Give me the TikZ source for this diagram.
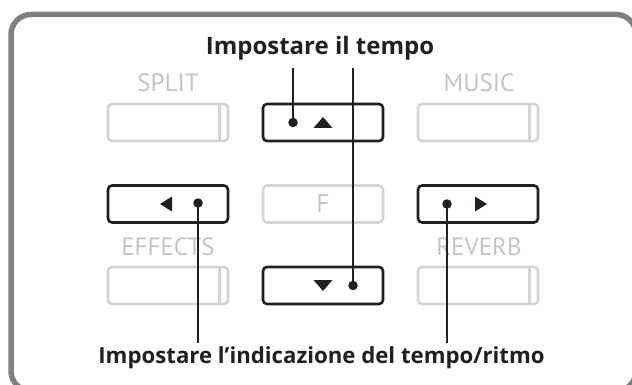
\documentclass[tikz,border=0pt]{standalone}
\usepackage{fontspec}
\setmainfont{PT Sans}
\newfontfamily\captionfont{Open Sans}
\usetikzlibrary{calc}
\definecolor{framegray}{HTML}{808080}
\definecolor{keygray}{HTML}{D4D4D4}
\definecolor{labelgray}{HTML}{C4C4C4}
\definecolor{inkblack}{HTML}{231F20}

\begin{document}
\begin{tikzpicture}[x=1pt,y=-1pt,
  key/.style={draw,rounded corners=4pt,line width=2.6pt,minimum width=120pt,minimum height=37pt,inner sep=0pt},
  livekey/.style={key,draw=inkblack},
  deadkey/.style={key,draw=keygray,text=labelgray,font=\fontsize{25.5}{25}\selectfont},
  keyname/.style={anchor=base,text=labelgray,font=\fontsize{25}{25}\selectfont},
  pin/.style={circle,fill=inkblack,inner sep=0pt,minimum size=9.5pt},
  lead/.style={line width=1.3pt,draw=inkblack},
  caption/.style={anchor=base,text=inkblack,font=\captionfont\bfseries\fontsize{22.2}{22}\selectfont}]
  \useasboundingbox (0,0) rectangle (632,385);
  \draw[framegray,line width=5.5pt,rounded corners=20pt] (11,14.5) rectangle (636,391);

  % panel keys
  \node[deadkey] (split) at (168,122.5) {};
  \node[livekey] (up) at (323,122.5) {};
  \node[deadkey] (music) at (478,122.5) {};
  \node[livekey] (left) at (168,204) {};
  \node[deadkey] (fkey) at (323,204) {F};
  \node[livekey] (right) at (478,204) {};
  \node[deadkey] (effects) at (168,285.5) {};
  \node[livekey] (down) at (323,285.5) {};
  \node[deadkey] (reverb) at (478,285.5) {};
  \foreach \k in {split,music,effects,reverb}
    \draw[keygray,line width=2.6pt] ($(\k.north east)+(-10,0)$) -- ($(\k.south east)+(-10,0)$);

  % key names
  \node[keyname] (splitname) at (168,92) {SPLIT};
  \node[keyname] (musicname) at (479,92) {MUSIC};
  \node[keyname] (effectsname) at (168,255) {EFFECTS};
  \node[keyname] (reverbname) at (479,255) {REVERB};

  % arrow marks
  \fill[inkblack] ($(up.center)+(-9.5,5.5)$) -- ++(19,0) -- ++(-9.5,-11) -- cycle;
  \fill[inkblack] ($(down.center)+(-9.5,-5.5)$) -- ++(19,0) -- ++(-9.5,11) -- cycle;
  \fill[inkblack] ($(left.center)+(4,-7.5)$) -- ++(0,15) -- ++(-12,-7.5) -- cycle;
  \fill[inkblack] ($(right.center)+(-3,-7.5)$) -- ++(0,15) -- ++(12,-7.5) -- cycle;

  % leads
  \node[pin] (updot) at ($(up.center)+(-30,0)$) {};
  \node[pin] (downdot) at ($(down.center)+(30,0)$) {};
  \node[pin] (leftdot) at ($(left.center)+(30,-1)$) {};
  \node[pin] (rightdot) at ($(right.center)+(-31,0)$) {};
  \coordinate (uptip) at (updot |- 0,68);
  \coordinate (downtip) at (downdot |- 0,68);
  \coordinate (lefttip) at (leftdot |- 0,343);
  \coordinate (righttip) at (rightdot |- 0,343);
  \draw[lead] (updot.center) -- (uptip);
  \draw[lead] (downdot.center) -- (downtip);
  \draw[lead] (leftdot.center) -- (lefttip);
  \draw[lead] (rightdot.center) -- (righttip);

  \node[caption,font=\captionfont\bfseries\fontsize{24}{24}\selectfont] (tempo) at (320,54.5) {Impostare il tempo};
  \node[caption] (ritmo) at (321.5,363.5) {Impostare l’indicazione del tempo/ritmo};
\end{tikzpicture}
\end{document}
